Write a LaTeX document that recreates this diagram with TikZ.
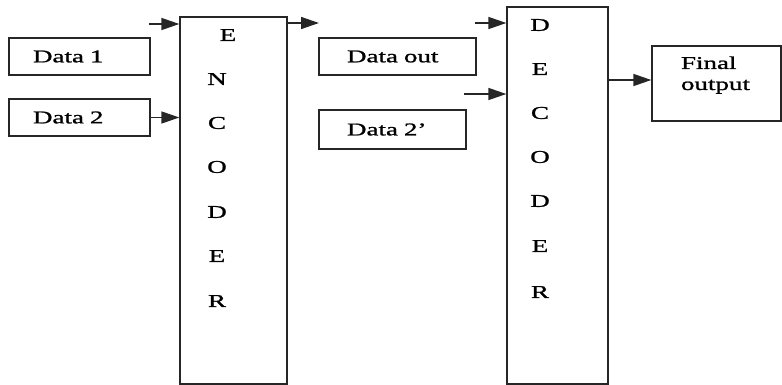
\documentclass[tikz,border=0pt]{standalone}
\usepackage{fontspec}
\setmainfont[FakeStretch=1.5, FakeBold=1.2]{Liberation Serif}
\usetikzlibrary{arrows.meta}

\tikzset{
    ramka/.style={draw=black!85, line width=1.3pt},
    databox/.style={ramka, minimum height=37pt, align=left, text width=#1},
    strelka/.style={draw=black!85, line width=1.5pt, -{Triangle[length=18pt,width=12pt]}}
}

\begin{document}
\begin{tikzpicture}[x=1pt, y=-1pt, font=\fontsize{18}{21}\selectfont]
    \useasboundingbox (0,0) rectangle (782,385);

    % Входные данные
    \node (data1) at (79.5,56.5) [databox=93pt, inner xsep=24pt] {Data 1};
    \node (data2) at (79.5,117.5) [databox=93pt, inner xsep=24pt] {Data 2};

    % Кодер
    \node (enc) at (233.5,200.5) [ramka, minimum width=107pt, minimum height=367pt] {};
    \foreach \bukva/\x/\y [count=\i] in {E/228/35, N/217/79, C/217/123, O/217/167, D/217/212, E/217/256, R/217/301}
        \node (enc-\i) at (\x,\y) {\bukva};

    % Промежуточные блоки
    \node (dataout) at (397.5,56.5) [databox=101pt, inner xsep=28pt] {Data out};
    \node (data2p) at (392.5,129.5) [databox=91pt, inner xsep=28pt, minimum height=39pt] {Data 2’};

    % Декодер
    \node (dec) at (557.5,195.5) [ramka, minimum width=101pt, minimum height=377pt] {};
    \foreach \bukva/\y [count=\i] in {D/25, E/69, C/113, O/157, D/201, E/246, R/292}
        \node (dec-\i) at (540,\y) {\bukva};

    % Выход
    \node (final) at (716.5,83.5) [ramka, inner xsep=29pt, inner ysep=10.5pt]
        {\parbox[t][54pt][t]{71pt}{Final\\output}};

    % Стрелки
    \coordinate (encin) at (149,24);
    \coordinate (encout) at (319,23);
    \coordinate (decin1) at (475,23);
    \coordinate (decin2) at (464,94);
    \coordinate (decout) at (608,80);

    \draw[strelka] (encin) -- (encin -| enc.west);
    \draw[strelka] (data2.east) -- (data2.east -| enc.west);
    \draw[strelka] (encout -| enc.east) -- (encout);
    \draw[strelka] (decin1) -- (decin1 -| dec.west);
    \draw[strelka] (decin2) -- (decin2 -| dec.west);
    \draw[strelka] (decout -| dec.east) -- (decout -| final.west);
\end{tikzpicture}
\end{document}
